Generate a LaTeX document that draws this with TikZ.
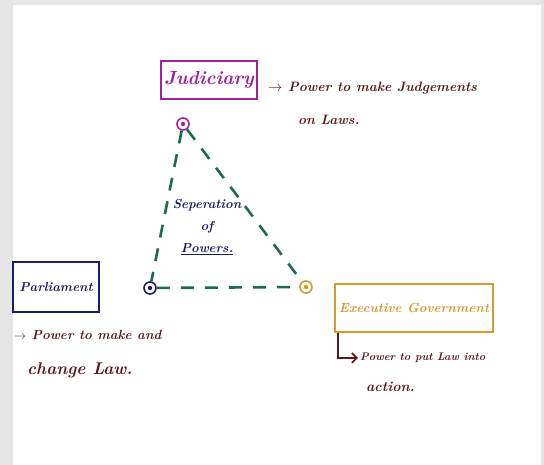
\documentclass[tikz,border=0pt]{standalone}
\usetikzlibrary{arrows.meta}
\definecolor{judcol}{HTML}{A0229E}
\definecolor{parcol}{HTML}{1C1C6E}
\definecolor{execol}{HTML}{D89A30}
\definecolor{notecol}{HTML}{5C1A1A}
\definecolor{linkcol}{HTML}{1F6B4E}
\definecolor{framecol}{HTML}{E6E6E6}
\newcommand{\hand}[1]{\bfseries\itshape\fontsize{#1}{#1}\selectfont}
\begin{document}
\begin{tikzpicture}[x=1pt,y=1pt]
        \tikzstyle{branch}=[draw,line width=2pt,inner sep=0pt,font=\hand{13}]
        \tikzstyle{vertex}=[circle,line width=1.6pt,fill=white,minimum size=12pt,inner sep=0pt]
        \tikzstyle{note}=[text=notecol,anchor=west,inner sep=0pt,font=\hand{13.6}]
        \tikzstyle{edge}=[draw=linkcol,line width=2.6pt,dash pattern=on 13pt off 11pt]
        \fill[framecol] (0,0) rectangle (544,465);
        \fill[white] (13,0) rectangle (541,460);
        \useasboundingbox (0,0) rectangle (544,465);
         \node [branch,draw=judcol,text=judcol,minimum width=96pt,minimum height=38pt,font=\hand{19}] (jud) at (209,385) {Judiciary};
         \node [branch,draw=parcol,text=parcol,minimum width=86pt,minimum height=50pt] (par) at (56,178) {Parliament};
         \node [branch,draw=execol,text=execol,minimum width=158pt,minimum height=48pt,font=\hand{13.2}] (exe) at (414,157) {Executive Government};
         \node [vertex,draw=judcol] (jc) at (183,341) {};
         \node [vertex,draw=parcol] (pc) at (150,177) {};
         \node [vertex,draw=execol] (ec) at (306,178) {};
         \path[edge] (jc) edge (pc);
         \path[edge] (jc) edge (ec);
         \path[edge] (pc) edge (ec);
         \fill[judcol] (jc) circle (2.2pt);
         \fill[parcol] (pc) circle (2.2pt);
         \fill[execol] (ec) circle (2.2pt);
         \node [text=parcol,align=center,font=\hand{13}] (sep) at (207,238) {Seperation\\[9pt]of\\[9pt]\underline{Powers.}};
         \node [note] (judnote) at (268,377) {$\rightarrow$ Power to make Judgements};
         \node [note] (judnote2) at (298,345) {on Laws.};
         \node [note,font=\hand{13.2}] (parnote) at (14,130) {$\rightarrow$ Power to make and};
         \node [note,font=\hand{17}] (parnote2) at (27,95) {change Law.};
         \node [note,font=\hand{11}] (exenote) at (360,107) {Power to put Law into};
         \node [note,font=\hand{14}] (exenote2) at (366,78) {action.};
         \draw[notecol,line width=1.6pt,-{Straight Barb[length=5pt]}] ([xshift=4pt]exe.south west) |- ([xshift=-2pt]exenote.west);
      \end{tikzpicture}
\end{document}
